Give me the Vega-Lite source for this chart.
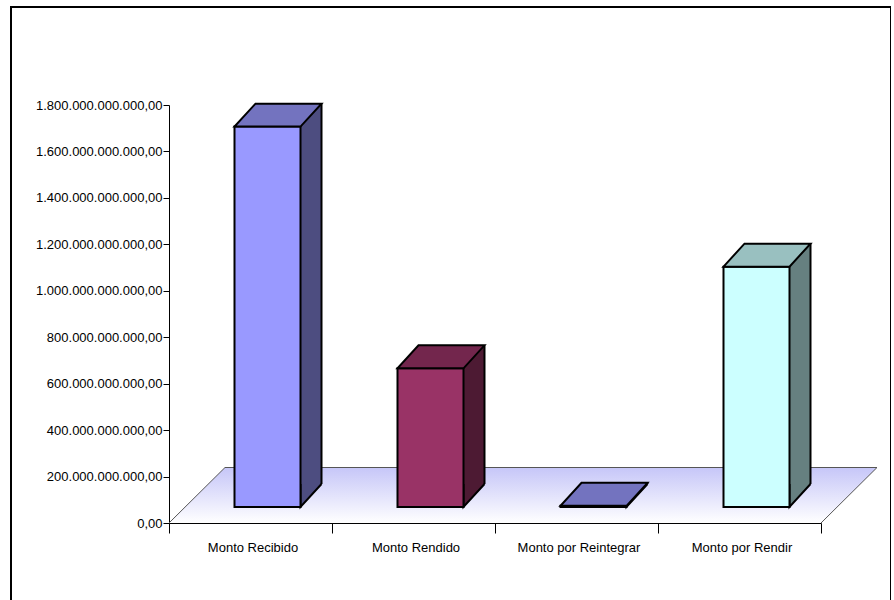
{
  "$schema": "https://vega.github.io/schema/vega-lite/v6.json",
  "width": 880,
  "height": 600,
  "autosize": "none",
  "padding": {"left": 11, "top": 7, "right": 0, "bottom": 0},
  "background": "white",
  "config": {
    "view": {"stroke": "black", "strokeWidth": 2},
    "locale": {"number": {"decimal": ",", "thousands": ".", "grouping": [3], "currency": ["", ""]}},
    "font": "Liberation Sans",
    "numberFormat": ",.2f",
    "axisX": {"orient": "bottom", "offset": -84, "tickBand": "extent", "tickSize": 10, "tickColor": "black", "domainColor": "black", "labelColor": "black", "labelFont": "Liberation Sans", "labelFontSize": 13, "labelPadding": 8, "labelOffset": 2, "labelAngle": 0, "grid": false},
    "axisY": {"orient": "left", "offset": -158, "tickCount": 9, "grid": false, "tickSize": 6, "tickColor": "black", "domainColor": "black", "labelColor": "black", "labelFont": "Liberation Sans", "labelFontSize": 13, "labelPadding": 1}
  },
  "data": {
    "values": [
      {"Concepto": "Monto Recibido", "Monto": 1638000000000},
      {"Concepto": "Monto Rendido", "Monto": 597000000000},
      {"Concepto": "Monto por Reintegrar", "Monto": 5000000000},
      {"Concepto": "Monto por Rendir", "Monto": 1035000000000}
    ]
  },
  "resolve": {"scale": {"fill": "independent"}},
  "layer": [
    {
      "transform": [{"filter": "datum.Concepto === 'Monto Recibido'"}],
      "mark": {
        "type": "point",
        "shape": "M5.705,0L6.265,-0.555L-0.255,-0.555L-0.815,0",
        "size": 40000,
        "filled": true,
        "opacity": 1,
        "fill": {"gradient": "linear", "x1": 0, "y1": 0, "x2": 0, "y2": 1, "stops": [{"offset": 0, "color": "#c6c6f8"}, {"offset": 1, "color": "#ffffff"}]},
        "stroke": "#555555",
        "strokeWidth": 1
      },
      "encoding": {
        "x": {"field": "Concepto", "type": "nominal", "title": null, "scale": {"domain": ["Monto Recibido", "Monto Rendido", "Monto por Reintegrar", "Monto por Rendir"], "range": [158, 810], "paddingInner": 0, "paddingOuter": 0}},
        "y": {"datum": 0, "type": "quantitative", "title": null, "scale": {"domain": [0, 1800000000000], "range": [516, 98], "nice": false, "zero": false}}
      }
    },
    {
      "mark": {"type": "bar", "width": 21, "xOffset": 60.5, "yOffset": -39, "y2Offset": -39},
      "encoding": {
        "x": {"field": "Concepto", "type": "nominal", "title": null, "scale": {"domain": ["Monto Recibido", "Monto Rendido", "Monto por Reintegrar", "Monto por Rendir"], "range": [158, 810], "paddingInner": 0, "paddingOuter": 0}},
        "y": {"field": "Monto", "type": "quantitative", "title": null, "scale": {"domain": [0, 1800000000000], "range": [516, 98], "nice": false, "zero": false}},
        "y2": {"datum": 0},
        "fill": {"field": "Concepto", "type": "nominal", "scale": {"domain": ["Monto Recibido", "Monto Rendido", "Monto por Reintegrar", "Monto por Rendir"], "range": ["#4d4d80", "#4d1a33", "#4d4d80", "#668080"]}, "legend": null}
      }
    },
    {
      "mark": {"type": "point", "shape": "M0,-2.19L0,0L2,-2.19", "size": 441, "filled": true, "opacity": 1, "stroke": "black", "strokeWidth": 2, "xOffset": 50, "yOffset": -16},
      "encoding": {
        "x": {"field": "Concepto", "type": "nominal", "title": null, "scale": {"domain": ["Monto Recibido", "Monto Rendido", "Monto por Reintegrar", "Monto por Rendir"], "range": [158, 810], "paddingInner": 0, "paddingOuter": 0}},
        "y": {"datum": 0, "type": "quantitative", "title": null, "scale": {"domain": [0, 1800000000000], "range": [516, 98], "nice": false, "zero": false}},
        "fill": {"field": "Concepto", "type": "nominal", "scale": {"domain": ["Monto Recibido", "Monto Rendido", "Monto por Reintegrar", "Monto por Rendir"], "range": ["#4d4d80", "#4d1a33", "#4d4d80", "#668080"]}, "legend": null}
      }
    },
    {
      "mark": {"type": "rule", "xOffset": 71, "yOffset": -39, "y2Offset": -39, "stroke": "black", "strokeWidth": 2},
      "encoding": {
        "x": {"field": "Concepto", "type": "nominal", "title": null, "scale": {"domain": ["Monto Recibido", "Monto Rendido", "Monto por Reintegrar", "Monto por Rendir"], "range": [158, 810], "paddingInner": 0, "paddingOuter": 0}},
        "y": {"field": "Monto", "type": "quantitative", "title": null, "scale": {"domain": [0, 1800000000000], "range": [516, 98], "nice": false, "zero": false}},
        "y2": {"datum": 0}
      }
    },
    {
      "mark": {"type": "bar", "width": 66, "xOffset": 17, "yOffset": -16, "y2Offset": -16, "stroke": "black", "strokeWidth": 2},
      "encoding": {
        "x": {"field": "Concepto", "type": "nominal", "title": null, "scale": {"domain": ["Monto Recibido", "Monto Rendido", "Monto por Reintegrar", "Monto por Rendir"], "range": [158, 810], "paddingInner": 0, "paddingOuter": 0}},
        "y": {"field": "Monto", "type": "quantitative", "title": null, "scale": {"domain": [0, 1800000000000], "range": [516, 98], "nice": false, "zero": false}},
        "y2": {"datum": 0},
        "fill": {"field": "Concepto", "type": "nominal", "scale": {"domain": ["Monto Recibido", "Monto Rendido", "Monto por Reintegrar", "Monto por Rendir"], "range": ["#9999ff", "#993366", "#9999ff", "#ccffff"]}, "legend": null}
      }
    },
    {
      "mark": {"type": "point", "shape": "M0,0L6.286,0L8.286,-2.19L2,-2.19Z", "size": 441, "filled": true, "opacity": 1, "stroke": "black", "strokeWidth": 2, "xOffset": -16, "yOffset": -16},
      "encoding": {
        "x": {"field": "Concepto", "type": "nominal", "title": null, "scale": {"domain": ["Monto Recibido", "Monto Rendido", "Monto por Reintegrar", "Monto por Rendir"], "range": [158, 810], "paddingInner": 0, "paddingOuter": 0}},
        "y": {"field": "Monto", "type": "quantitative", "title": null, "scale": {"domain": [0, 1800000000000], "range": [516, 98], "nice": false, "zero": false}},
        "fill": {"field": "Concepto", "type": "nominal", "scale": {"domain": ["Monto Recibido", "Monto Rendido", "Monto por Reintegrar", "Monto por Rendir"], "range": ["#7373bf", "#73264d", "#7373bf", "#99c0c0"]}, "legend": null}
      }
    }
  ]
}
